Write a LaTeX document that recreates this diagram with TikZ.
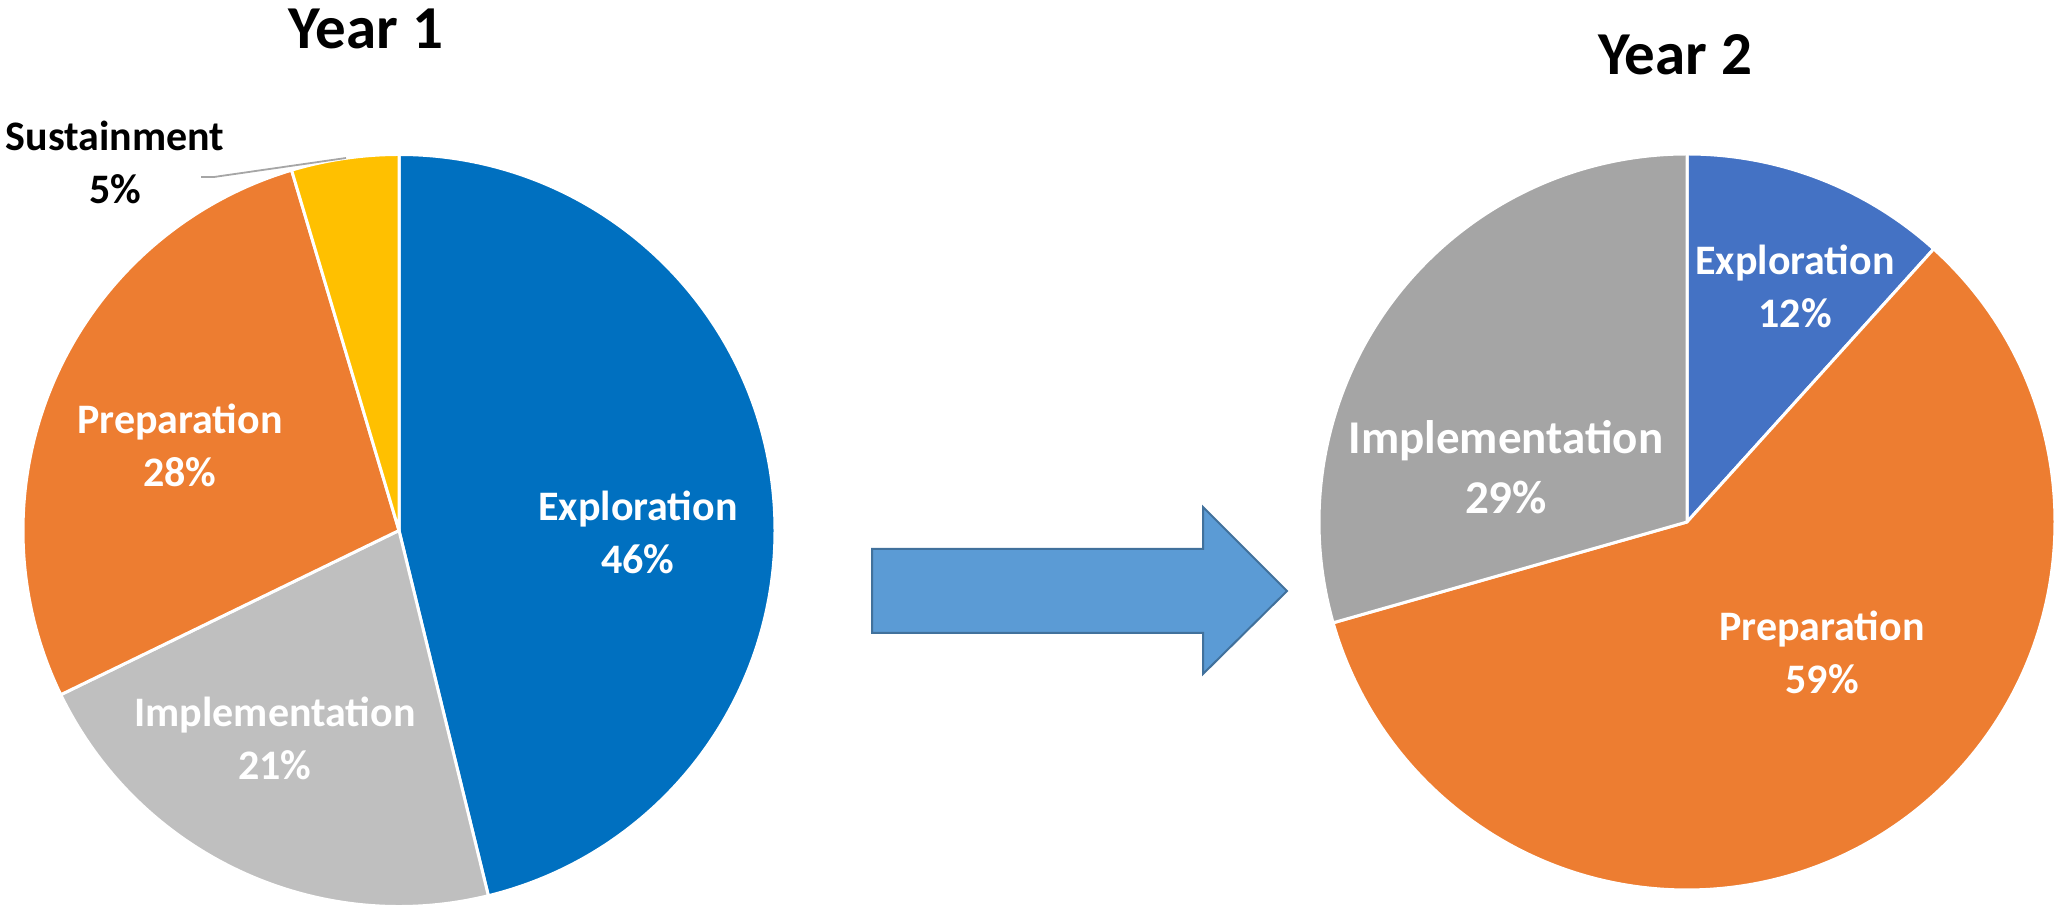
\documentclass[tikz,border=0pt]{standalone}
\usepackage{fontspec}
\setmainfont{Carlito}
\definecolor{explA}{HTML}{0070C0}
\definecolor{explB}{HTML}{4472C4}
\definecolor{prep}{HTML}{ED7D31}
\definecolor{implA}{HTML}{BFBFBF}
\definecolor{implB}{HTML}{A5A5A5}
\definecolor{sust}{HTML}{FFC000}
\definecolor{arrfill}{HTML}{5B9BD5}
\definecolor{arrline}{HTML}{41719C}
\definecolor{leader}{HTML}{A6A6A6}
\tikzset{
  slice/.style={draw=white, line width=3pt, line join=round},
  lbl/.style={align=center, text=white, inner sep=0pt, font=\bfseries\fontsize{42}{53}\selectfont},
  lblbig/.style={align=center, text=white, inner sep=0pt, font=\bfseries\fontsize{47}{60}\selectfont},
  title/.style={inner sep=0pt, font=\bfseries\fontsize{61}{72}\selectfont},
  bigarrow/.style={fill=arrfill, draw=arrline, line width=2pt, line join=miter}
}
\newcommand{\pieslice}[5]{% center, radius, start, end, colour
  \draw[slice, fill=#5] (#1) -- ++(#3:#2) arc[start angle=#3, end angle=#4, radius=#2] -- cycle;}
\begin{document}
\begin{tikzpicture}[x=1pt,y=1pt]
\useasboundingbox (0,0) rectangle (2054,909);
% ---- Year 1 pie
\coordinate (cA) at (399,378.5);
\pieslice{cA}{376}{90}{-76.25}{explA}
\pieslice{cA}{376}{-76.25}{-154.1}{implA}
\pieslice{cA}{376}{-154.1}{-253.4}{prep}
\pieslice{cA}{376}{106.6}{90}{sust}
% ---- Year 2 pie
\coordinate (cB) at (1687,387);
\pieslice{cB}{368}{90}{47.9}{explB}
\pieslice{cB}{368}{47.9}{-164.1}{prep}
\pieslice{cB}{368}{-164.1}{-270}{implB}
% ---- titles
\node[title] (t1) at (366,880) {Year 1};
\node[title] (t2) at (1675,854) {Year 2};
% ---- Year 1 labels
\node[lbl] (lexA) at (638,377) {Exploration\\46\%};
\node[lbl] (limA) at (275,171) {Implementation\\21\%};
\node[lbl] (lprA) at (180,464) {Preparation\\28\%};
\node[lbl, text=black] (lsu) at (115,747) {Sustainment\\5\%};
% leader line
\coordinate (ld0) at (201,732);
\coordinate (ld1) at (214,732);
\coordinate (ld2) at (346,751);
\draw[leader, line width=1.8pt] (ld0) -- (ld1) -- (ld2);
% ---- Year 2 labels
\node[lbl] (lexB) at (1795,623) {Exploration\\12\%};
\node[lblbig] (limB) at (1506,442) {Implementation\\29\%};
\node[lbl] (lprB) at (1822,257) {Preparation\\59\%};
% ---- arrow
\draw[bigarrow] (872,360) -- (1203,360) -- (1203,402) -- (1287,318) -- (1203,235) -- (1203,276) -- (872,276) -- cycle;
\end{tikzpicture}
\end{document}
